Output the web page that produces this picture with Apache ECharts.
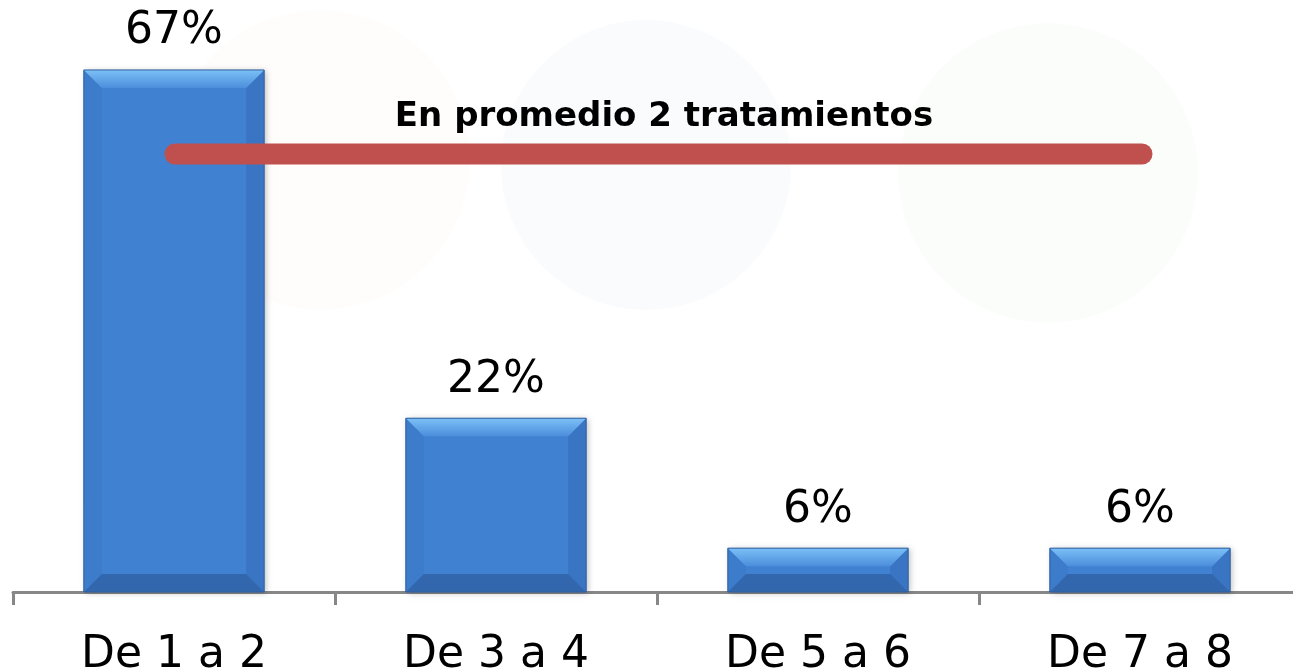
<!DOCTYPE html>
<html>
<head>
<meta charset="utf-8">
<script src="https://cdn.jsdelivr.net/npm/echarts@6/dist/echarts.min.js"></script>
<style>
  html, body { margin: 0; padding: 0; background: #fff; }
  #chart { width: 1293px; height: 669px; }
</style>
</head>
<body>
<div id="chart"></div>
<script>
const categories = ["De 1 a 2", "De 3 a 4", "De 5 a 6", "De 7 a 8"];
const shares = [66.7, 22.2, 5.6, 5.6];
const note = "En promedio 2 tratamientos";

const FONT = "DejaVu Sans";

document.addEventListener("DOMContentLoaded", function () {
    const chart = echarts.init(document.getElementById("chart"));

    // bar with a bevelled look, like the office chart it comes from
    function renderBar(params, api) {
        const idx = api.value(0);
        const top = api.coord([idx, api.value(1)]);
        const base = api.coord([idx, 0]);
        const w = api.size([1, 0])[0] * 0.56;
        const x0 = top[0] - w / 2;
        const x1 = top[0] + w / 2;
        const y0 = top[1];
        const y1 = base[1];
        const b = Math.min(18, (y1 - y0) / 2);
        const poly = (pts, fill) => ({ type: "polygon", shape: { points: pts }, style: { fill: fill } });
        return {
            type: "group",
            children: [
                {
                    type: "rect",
                    shape: { x: x0, y: y0, width: w, height: y1 - y0 },
                    style: { fill: "#4081d2", shadowBlur: 6, shadowOffsetX: 2, shadowOffsetY: 1, shadowColor: "rgba(0,0,0,0.25)" }
                },
                poly([[x0, y0], [x0 + b, y0 + b], [x0 + b, y1 - b], [x0, y1]], "#3d7bcb"),
                poly([[x1, y0], [x1 - b, y0 + b], [x1 - b, y1 - b], [x1, y1]], "#3a75c3"),
                poly([[x0, y1], [x0 + b, y1 - b], [x1 - b, y1 - b], [x1, y1]], "#3367ad"),
                poly([[x0, y0], [x0 + b, y0 + b], [x1 - b, y0 + b], [x1, y0]],
                    new echarts.graphic.LinearGradient(0, 0, 0, 1, [
                        { offset: 0, color: "#7cc0f7" },
                        { offset: 1, color: "#4c8edb" }
                    ])),
                {
                    type: "rect",
                    shape: { x: x0, y: y0, width: w, height: y1 - y0 },
                    style: { fill: "none", stroke: "#2f5f9f", lineWidth: 1 }
                },
                {
                    type: "text",
                    x: top[0],
                    y: y0 - 38,
                    style: {
                        text: Math.round(api.value(1)) + "%",
                        fontFamily: FONT,
                        fontSize: 44,
                        fill: "#000",
                        align: "center",
                        verticalAlign: "middle"
                    }
                }
            ]
        };
    }

    const option = {
        backgroundColor: "#fff",
        animation: false,
        grid: { left: 13, width: 1288, top: 5, bottom: 77, outerBoundsMode: "none" },
        xAxis: {
            type: "category",
            data: categories,
            boundaryGap: true,
            axisLine: { lineStyle: { color: "#878787", width: 3 } },
            axisTick: { show: true, alignWithLabel: false, length: 13, lineStyle: { color: "#878787", width: 3 } },
            axisLabel: { fontFamily: FONT, fontSize: 44, color: "#000", margin: 42 }
        },
        yAxis: {
            type: "value",
            min: 0,
            max: 75,
            show: false,
            splitLine: { show: false }
        },
        graphic: [
            { type: "circle", shape: { cx: 320, cy: 160, r: 150 }, style: { fill: "rgba(240,160,60,0.02)" }, z: -10 },
            { type: "circle", shape: { cx: 646, cy: 165, r: 145 }, style: { fill: "rgba(90,140,200,0.03)" }, z: -10 },
            { type: "circle", shape: { cx: 1048, cy: 173, r: 150 }, style: { fill: "rgba(120,190,120,0.03)" }, z: -10 },
            {
                type: "line",
                shape: { x1: 175, y1: 154, x2: 1142, y2: 154 },
                style: { stroke: "#c0504d", lineWidth: 21, lineCap: "round" },
                z: 10
            },
            {
                type: "text",
                x: 664,
                y: 117,
                style: {
                    text: note,
                    fontFamily: FONT,
                    fontWeight: "bold",
                    fontSize: 34,
                    fill: "#000",
                    align: "center",
                    verticalAlign: "middle"
                },
                z: 10
            }
        ],
        series: [
            {
                type: "custom",
                renderItem: renderBar,
                encode: { x: 0, y: 1 },
                data: shares.map((v, i) => [i, v])
            }
        ]
    };

    chart.setOption(option);
});
</script>
</body>
</html>
